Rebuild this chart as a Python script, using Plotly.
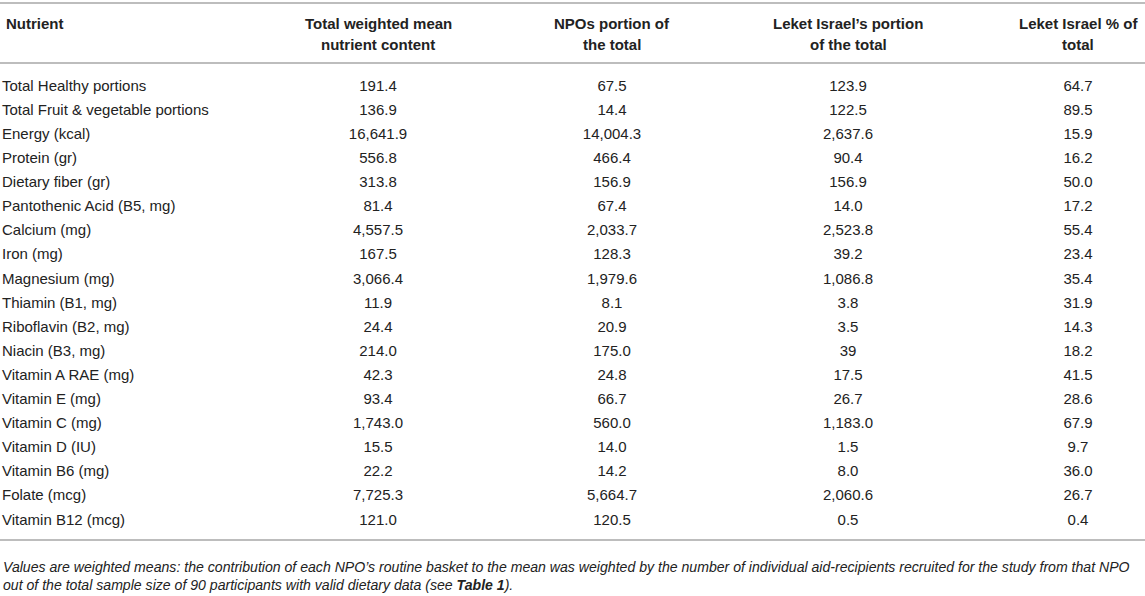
import plotly.graph_objects as go

nutrients = [
    "Total Healthy portions", "Total Fruit & vegetable portions", "Energy (kcal)",
    "Protein (gr)", "Dietary fiber (gr)", "Pantothenic Acid (B5, mg)", "Calcium (mg)",
    "Iron (mg)", "Magnesium (mg)", "Thiamin (B1, mg)", "Riboflavin (B2, mg)",
    "Niacin (B3, mg)", "Vitamin A RAE (mg)", "Vitamin E (mg)", "Vitamin C (mg)",
    "Vitamin D (IU)", "Vitamin B6 (mg)", "Folate (mcg)", "Vitamin B12 (mcg)",
]
total_mean = ["191.4", "136.9", "16,641.9", "556.8", "313.8", "81.4", "4,557.5", "167.5",
              "3,066.4", "11.9", "24.4", "214.0", "42.3", "93.4", "1,743.0", "15.5", "22.2",
              "7,725.3", "121.0"]
npo_portion = ["67.5", "14.4", "14,004.3", "466.4", "156.9", "67.4", "2,033.7", "128.3",
               "1,979.6", "8.1", "20.9", "175.0", "24.8", "66.7", "560.0", "14.0", "14.2",
               "5,664.7", "120.5"]
leket_portion = ["123.9", "122.5", "2,637.6", "90.4", "156.9", "14.0", "2,523.8", "39.2",
                 "1,086.8", "3.8", "3.5", "39", "17.5", "26.7", "1,183.0", "1.5", "8.0",
                 "2,060.6", "0.5"]
leket_pct = ["64.7", "89.5", "15.9", "16.2", "50.0", "17.2", "55.4", "23.4", "35.4", "31.9",
             "14.3", "18.2", "41.5", "28.6", "67.9", "9.7", "36.0", "26.7", "0.4"]

headers = [
    ["Nutrient", ""],
    ["Total weighted mean", "nutrient content"],
    ["NPOs portion of", "the total"],
    ["Leket Israel\u2019s portion", "of the total"],
    ["Leket Israel % of", "total"],
]

W, H = 1145, 596
FONT = "Liberation Sans, Arial, sans-serif"
txt = "#222222"
rule = "#bdbdbd"

# column anchor x (px) and text position
col_x = [2, 378, 612, 848, 1078]
col_pos = ["middle right", "middle center", "middle center", "middle center", "middle center"]
columns = [nutrients, total_mean, npo_portion, leket_portion, leket_pct]

first_row, pitch = 87, 24.1
rows = list(range(len(nutrients)))

fig = go.Figure()
for cx, pos, vals in zip(col_x, col_pos, columns):
    fig.add_trace(go.Scatter(
        x=[cx] * len(vals), y=rows, text=vals, mode="text", textposition=pos,
        textfont=dict(family=FONT, size=15, color=txt), hoverinfo="skip", showlegend=False,
    ))

# header text
for i, (cx, lines) in enumerate(zip(col_x, headers)):
    for ypx, line in zip([23, 44], lines):
        if not line:
            continue
        fig.add_annotation(text="<b>%s</b>" % line, x=cx if i else 4, xref="x",
                           y=1 - ypx / H, yref="paper",
                           xanchor="left" if i == 0 else "center", yanchor="middle",
                           showarrow=False, font=dict(family=FONT, size=15, color=txt))

for ypx in [3, 63, 540]:
    fig.add_shape(type="line", xref="paper", yref="paper", x0=0, x1=1,
                  y0=1 - ypx / H, y1=1 - ypx / H, line=dict(color=rule, width=2))

note = ("<i>Values are weighted means: the contribution of each NPO\u2019s routine basket to the mean was "
        "weighted by the number of individual aid-recipients recruited for the study from that NPO<br>"
        "out of the total sample size of 90 participants with valid dietary data (see <b>Table 1</b>).</i>")
fig.add_annotation(text=note, xref="paper", yref="paper", x=1 / W, y=1 - 575.5 / H,
                   xanchor="left", yanchor="middle", align="left", showarrow=False,
                   font=dict(family=FONT, size=14.1, color=txt))

fig.update_xaxes(range=[0, W], visible=False, fixedrange=True)
fig.update_yaxes(range=[(H - first_row) / pitch, -first_row / pitch], visible=False, fixedrange=True)
fig.update_layout(width=W, height=H, margin=dict(l=0, r=0, t=0, b=0),
                  paper_bgcolor="white", plot_bgcolor="white")

fig.write_html("out.html", config={"displayModeBar": False},
               post_script="document.body.style.margin='0px';document.body.style.overflow='hidden';")
